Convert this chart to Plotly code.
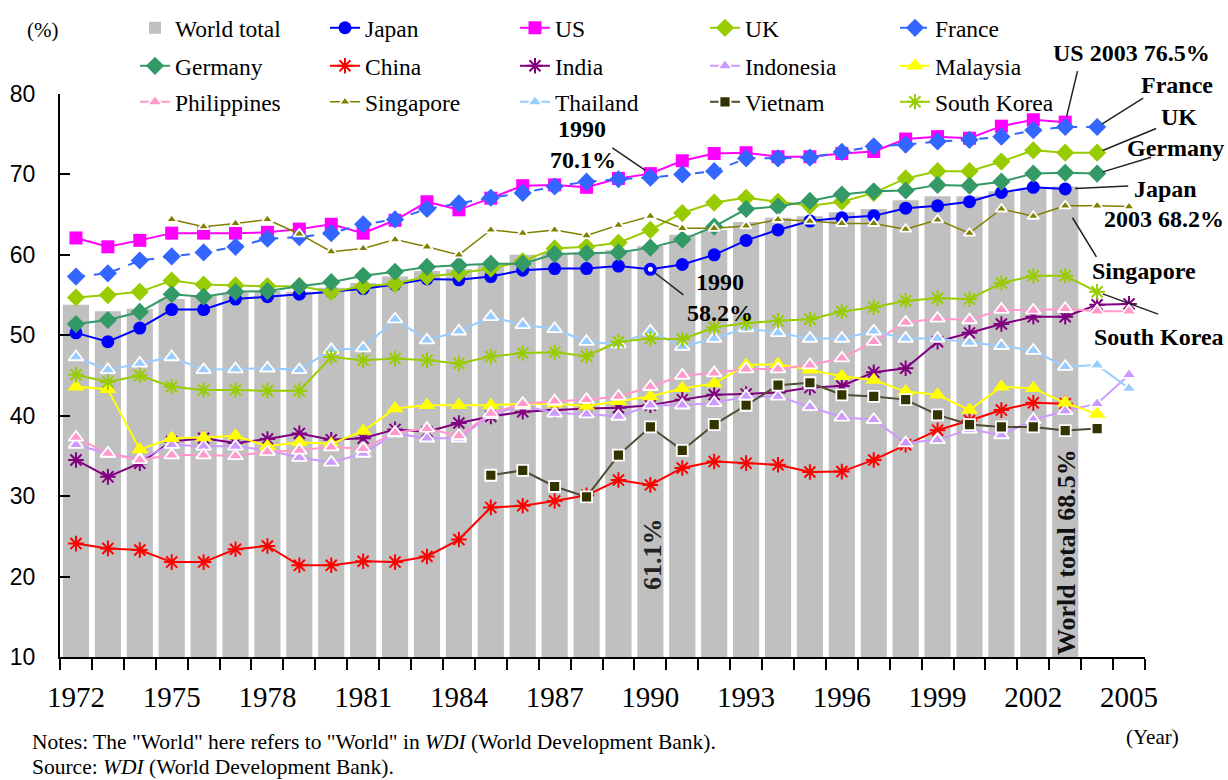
import plotly.graph_objects as go

years = list(range(1972, 2006))
tick_years = list(range(1972, 2006, 3))

world_total = [53.8, 53.0, 53.3, 54.5, 54.9, 55.3, 55.5, 55.4, 55.9, 56.5, 57.3, 58.0, 58.2, 58.8,
               60.0, 60.2, 60.3, 60.6, 61.1, 62.5, 63.1, 64.1, 64.6, 64.8, 65.3, 65.7, 66.8, 67.3,
               67.3, 67.9, 68.3, 68.5, None, None]
japan = [50.3, 49.2, 50.9, 53.2, 53.2, 54.5, 54.8, 55.1, 55.4, 55.8, 56.3, 57.0, 56.9, 57.3, 58.1,
         58.3, 58.3, 58.6, 58.2, 58.8, 60.0, 61.8, 63.1, 64.2, 64.6, 64.85, 65.8, 66.1, 66.6, 67.75,
         68.4, 68.2, None, None]
us = [62.1, 61.0, 61.8, 62.7, 62.7, 62.7, 62.8, 63.2, 63.8, 62.7, 64.3, 66.6, 65.6, 67.05, 68.6,
      68.7, 68.4, 69.5, 70.1, 71.7, 72.6, 72.7, 72.2, 72.2, 72.6, 72.85, 74.4, 74.7, 74.5, 76.0,
      76.8, 76.5, None, None]
uk = [54.7, 55.0, 55.4, 56.8, 56.3, 56.2, 56.1, 56.1, 55.4, 56.1, 56.4, 57.3, 57.7, 58.3, 59.2,
      60.8, 61.0, 61.5, 63.1, 65.2, 66.5, 67.1, 66.6, 66.1, 66.6, 67.7, 69.5, 70.4, 70.4, 71.6,
      73.0, 72.7, 72.7, None]
france = [57.3, 57.7, 59.3, 59.8, 60.3, 61.0, 62.0, 62.2, 62.7, 63.8, 64.4, 65.7, 66.4, 67.1, 67.7,
          68.5, 69.1, 69.4, 69.6, 70.0, 70.4, 72.0, 72.0, 72.1, 72.8, 73.5, 73.7, 74.1, 74.3, 74.7,
          75.5, 75.9, 75.9, None]
germany = [51.4, 51.9, 52.9, 55.1, 54.8, 55.4, 55.5, 56.1, 56.6, 57.4, 57.9, 58.5, 58.7, 58.9, 58.9,
           60.1, 60.2, 60.3, 60.9, 61.9, 63.5, 65.7, 66.0, 66.7, 67.5, 67.9, 68.0, 68.7, 68.6, 69.1,
           70.1, 70.2, 70.1, None]
china = [24.1, 23.5, 23.3, 21.8, 21.8, 23.4, 23.8, 21.4, 21.4, 21.9, 21.8, 22.5, 24.6, 28.6, 28.8,
         29.4, 30.1, 32.0, 31.4, 33.5, 34.3, 34.1, 33.9, 33.0, 33.05, 34.5, 36.4, 38.2, 39.4, 40.7,
         41.6, 41.5, None, None]
india = [34.5, 32.4, 34.1, 36.8, 37.2, 36.6, 37.1, 37.8, 37.0, 37.2, 38.3, 38.0, 39.1, 39.9, 40.5,
         40.7, 40.9, 41.0, 41.3, 42.0, 42.6, 42.7, 42.9, 43.5, 43.7, 45.4, 45.9, 49.2, 50.3, 51.4,
         52.3, 52.3, 53.8, 53.9]
indonesia = [36.4, 35.3, 34.6, 36.4, 36.2, 36.2, 35.7, 34.8, 34.2, 35.3, 37.8, 37.2, 37.2, 40.1, 41.3,
             40.3, 40.2, 39.9, 41.3, 41.3, 41.6, 42.4, 42.4, 41.1, 39.8, 39.5, 36.6, 37.0, 38.3, 37.6,
             39.5, 40.6, 41.5, 45.1]
malaysia = [43.6, 43.3, 35.8, 37.2, 37.3, 37.5, 36.2, 36.7, 36.5, 38.1, 40.9, 41.3, 41.3, 41.3, 41.5,
            41.5, 41.2, 41.8, 42.4, 43.4, 44.0, 46.3, 46.4, 45.7, 44.9, 44.45, 43.0, 42.6, 40.7, 43.6,
            43.4, 41.6, 40.2, None]
philippines = [37.3, 35.3, 34.5, 35.1, 35.1, 35.0, 35.5, 35.7, 36.1, 35.9, 37.9, 38.4, 37.5, 40.3, 41.5,
               41.8, 42.0, 42.4, 43.6, 45.0, 45.3, 45.8, 45.8, 46.3, 47.15, 49.2, 51.6, 52.1, 51.9,
               53.2, 53.1, 53.3, 53.0, 53.0]
singapore = [None, None, None, 64.4, 63.5, 63.9, 64.4, 62.6, 60.4, 60.8, 61.9, 61.0, 60.0, 63.1, 62.7,
             63.1, 62.4, 63.7, 64.8, 63.3, 63.3, 63.6, 64.4, 64.2, 63.9, 63.9, 63.2, 64.35, 62.7, 65.7,
             64.8, 66.1, 66.1, 66.0]
thailand = [47.3, 45.7, 46.5, 47.3, 45.7, 45.8, 45.9, 45.7, 48.2, 48.4, 52.0, 49.4, 50.5, 52.3, 51.3,
            50.8, 49.2, 48.9, 50.5, 48.6, 49.6, 50.9, 50.3, 49.6, 49.6, 50.5, 49.6, 49.6, 49.1, 48.7,
            48.1, 46.1, 46.3, 43.4]
vietnam = [None] * 13 + [32.6, 33.2, 31.2, 29.9, 35.1, 38.6, 35.7, 38.9, 41.3, 43.8, 44.1, 42.6, 42.4,
                         42.0, 40.1, 38.9, 38.6, 38.6, 38.15, 38.4, None]
south_korea = [45.1, 44.2, 45.0, 43.6, 43.2, 43.2, 43.1, 43.1, 47.3, 46.9, 47.1, 46.9, 46.5, 47.35,
               47.8, 47.9, 47.4, 49.2, 49.6, 49.5, 51.0, 51.5, 51.8, 52.0, 52.95, 53.5, 54.3, 54.6,
               54.5, 56.5, 57.4, 57.4, 55.4, None]

# ---- geometry helpers (pixel -> paper / container) ----
W, H = 1228, 780
L, R, T, B = 60, 1145, 94, 657


def px(x):
    return (x - L) / (R - L)


def py(y):
    return (B - y) / (B - T)


SERIF = "Liberation Serif"
fig = go.Figure()

fig.add_trace(go.Bar(x=years, y=world_total, name="World total", marker=dict(color="#C0C0C0", line=dict(width=0)),
                     width=0.82, legend="legend"))


def line(name, data, color, symbol, size, legend, dash="solid", mline=None, mcolor=None, lw=2):
    marker = dict(symbol=symbol, size=size, color=mcolor or color)
    marker["line"] = mline if mline is not None else dict(width=0)
    fig.add_trace(go.Scatter(x=years, y=data, name=name, mode="lines+markers",
                             line=dict(color=color, width=lw, dash=dash), marker=marker, legend=legend))


WHITE = dict(color="white", width=1.8)
line("Japan", japan, "#0000FF", "circle", 13, "legend")
line("US", us, "#FF00FF", "square", 13, "legend")
line("UK", uk, "#99CC00", "diamond", 14, "legend")
line("France", france, "#3366FF", "diamond", 14, "legend", dash="dash")
line("Germany", germany, "#339966", "diamond", 14, "legend2")
line("China", china, "#FF0000", "asterisk-open", 13, "legend2", mline=dict(color="#FF0000", width=2))
line("India", india, "#800080", "asterisk-open", 13, "legend2", mline=dict(color="#800080", width=2))
line("Indonesia", indonesia, "#CC99FF", "triangle-up", 13, "legend2", mline=WHITE)
line("Malaysia", malaysia, "#FFFF00", "triangle-up", 15, "legend2")
line("Philippines", philippines, "#FF99CC", "triangle-up", 13, "legend3", mline=WHITE)
line("Singapore", singapore, "#808000", "triangle-up", 10, "legend3", mline=WHITE, lw=1.5)
line("Thailand", thailand, "#99CCFF", "triangle-up", 13, "legend3", mline=WHITE)
line("Vietnam", vietnam, "#4D4D33", "square", 11, "legend3", mline=WHITE, mcolor="#333300")
line("South Korea", south_korea, "#99CC00", "asterisk-open", 13, "legend3", mline=dict(color="#99CC00", width=2))

# highlight marker on Japan 1990
i90 = years.index(1990)
fig.add_trace(go.Scatter(x=[years[i90]], y=[japan[i90]], mode="markers", showlegend=False,
                         marker=dict(color="white", size=5, line=dict(width=0)), hoverinfo="skip"))

leg_common = dict(orientation="h", font=dict(family=SERIF, size=23.5, color="black"),
                  bgcolor="rgba(0,0,0,0)", entrywidth=145, entrywidthmode="pixels",
                  xref="container", yref="container",
                  xanchor="left", yanchor="middle", x=135 / W, itemclick=False)
fig.update_layout(
    legend=dict(leg_common, y=1 - 28 / H),
    legend2=dict(leg_common, y=1 - 66 / H),
    legend3=dict(leg_common, y=1 - 102 / H),
)

fig.update_layout(
    width=W, height=H,
    margin=dict(l=L, r=W - R, t=T, b=H - B, autoexpand=False),
    paper_bgcolor="white", plot_bgcolor="white",
    bargap=0.18,
    xaxis=dict(range=[1971.5, 2005.5], tickmode="array", tickvals=tick_years,
               ticktext=[str(y) for y in tick_years], ticks="outside", ticklen=11,
               tickcolor="rgba(0,0,0,0)", showline=True, linecolor="black", linewidth=2,
               showgrid=False, zeroline=False, ticklabelstandoff=2, automargin=False,
               tickfont=dict(family=SERIF, size=29, color="black"),
               minor=dict(tickmode="linear", tick0=1971.5, dtick=1, ticks="outside", ticklen=11,
                          tickcolor="black", tickwidth=1.5, showgrid=False)),
    yaxis=dict(range=[10, 80], tickmode="linear", tick0=10, dtick=10, ticks="inside", ticklen=10,
               tickwidth=2, tickcolor="black", showline=True, linecolor="black", linewidth=2,
               showgrid=False, zeroline=False, ticklabelstandoff=18, automargin=False,
               tickfont=dict(family="Liberation Sans", size=23, color="black")),
)

ann = []
BF = dict(family=SERIF, size=24, color="black")


def txt(text, x, y, font=BF, angle=0, xanchor="center"):
    ann.append(dict(text=text, x=px(x), y=py(y), xref="paper", yref="paper", showarrow=False,
                    font=font, textangle=angle, xanchor=xanchor, yanchor="middle"))


def leader(xv, yv, ax, ay, standoff=5):
    ann.append(dict(text=" ", x=xv, y=yv, xref="x", yref="y", showarrow=True, arrowhead=0,
                    arrowwidth=1.5, arrowcolor="#222222", ax=ax, ay=ay, standoff=standoff,
                    font=dict(size=2)))


i03 = years.index(2003)
i04 = years.index(2004)

txt("<b>1990</b>", 582, 129)
txt("<b>70.1%</b>", 583, 160)
leader(years[i90], us[i90], -40, -27, 6)
txt("<b>1990</b>", 720, 282)
txt("<b>58.2%</b>", 720, 313)
leader(years[i90], japan[i90], 35, 27, 6)
txt("<b>US 2003 76.5%</b>", 1212, 53, xanchor="right")
leader(years[i03], us[i03], 13, -54, 6)
txt("<b>France</b>", 1215, 85, xanchor="right")
leader(years[i04], france[i04], 48, -30, 6)
txt("<b>UK</b>", 1199, 117, xanchor="right")
leader(years[i04], uk[i04], 61, -25, 6)
txt("<b>Germany</b>", 1226, 148, xanchor="right")
leader(years[i04], germany[i04], 56, -17, 6)
txt("<b>Japan</b>", 1199, 189, xanchor="right")
txt("<b>2003 68.2%</b>", 1226, 219, xanchor="right")
leader(years[i03], japan[i03], 65, -3, 10)
txt("<b>Singapore</b>", 1198, 271, xanchor="right")
leader(years[i03], singapore[i03], 33, 54, 14)
txt("<b>South Korea</b>", 1226, 337, xanchor="right")
leader(years[i04], south_korea[i04], 63, 23, 6)
txt("<b>61.1%</b>", 652, 554, font=dict(family=SERIF, size=26, color="#222222"), angle=-90)
txt("<b>World total 68.5%</b>", 1066, 552, font=dict(family=SERIF, size=26, color="#111111"), angle=-90)

RF = dict(family=SERIF, size=21, color="black")
NF = dict(family=SERIF, size=21.5, color="black")
txt("(%)", 42, 30, font=RF)
txt("(Year)", 1152, 737, font=RF)
txt('Notes: The "World" here refers to "World" in <i>WDI</i> (World Development Bank).', 30, 742,
    font=NF, xanchor="left")
txt("Source: <i>WDI</i> (World Development Bank).", 30, 767, font=NF, xanchor="left")

fig.update_layout(annotations=ann)
fig.write_html("out.html", config={"displayModeBar": False},
               post_script="document.body.style.margin='0';document.body.style.padding='0';")
